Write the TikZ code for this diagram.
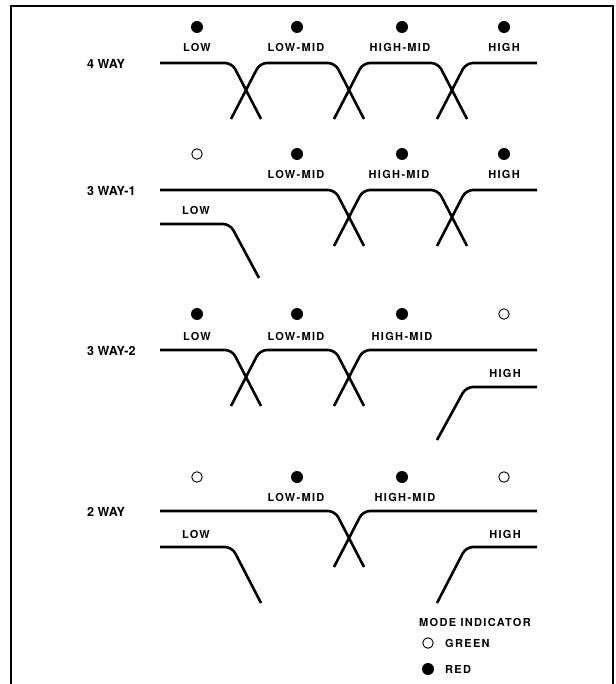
\documentclass[tikz,border=0pt]{standalone}
\usepackage{fontspec}
\setmainfont{TeX Gyre Heros}
\newfontfamily\lblfont{TeX Gyre Heros}[LetterSpace=12]
\usepackage{tikz}
\usetikzlibrary{calc}

\tikzset{
  band/.style={line width=2.6pt,rounded corners=7pt},
  txt/.style={font=\lblfont\bfseries\fontsize{11}{13}\selectfont,inner sep=0pt},
  mode/.style={font=\bfseries\fontsize{12.5}{14}\selectfont,inner sep=0pt,anchor=west},
  redled/.style={circle,fill=black,inner sep=0pt,minimum size=12pt},
  greenled/.style={circle,draw=black,line width=0.9pt,inner sep=0pt,minimum size=10.5pt},
}

\begin{document}
\begin{tikzpicture}[x=1pt,y=-1pt]
\useasboundingbox (0,0) rectangle (615,684);
% open frame
\draw[line width=1.2pt] (11,684) -- (11,6) -- (613,6) -- (613,684);

% 4 way
\begin{scope}[shift={(0,63)}]
\node[mode] (w4) at (87,1) {4 WAY};
\node[redled] (w4d1) at (197,-36) {};
\node[redled] (w4d2) at (297,-36) {};
\node[redled] (w4d3) at (402,-36) {};
\node[redled] (w4d4) at (504,-36) {};
\node[txt] (w4l1) at (197,-16) {LOW};
\node[txt] (w4l2) at (296,-16) {LOW-MID};
\node[txt] (w4l3) at (400,-16) {HIGH-MID};
\node[txt] (w4l4) at (504,-16) {HIGH};
\draw[band] (160,0) -- (232,0) -- (261,56);
\draw[band] (231,56) -- (260,0) -- (335,0) -- (364,56);
\draw[band] (334,56) -- (363,0) -- (438,0) -- (467,56);
\draw[band] (437,56) -- (466,0) -- (537,0);
\end{scope}

% 3 way-1
\begin{scope}[shift={(0,190)}]
\node[mode] (w31) at (87,1) {3 WAY-1};
\node[greenled] (w31d1) at (197,-36) {};
\node[redled] (w31d2) at (297,-36) {};
\node[redled] (w31d3) at (402,-36) {};
\node[redled] (w31d4) at (504,-36) {};
\node[txt] (w31l1) at (196,20) {LOW};
\node[txt] (w31l2) at (296,-16) {LOW-MID};
\node[txt] (w31l3) at (399,-16) {HIGH-MID};
\node[txt] (w31l4) at (504,-16) {HIGH};
\draw[band] (160,0) -- (335,0) -- (364,56);
\draw[band] (334,56) -- (363,0) -- (438,0) -- (467,56);
\draw[band] (437,56) -- (466,0) -- (537,0);
\draw[band] (160,34) -- (230,34) -- (259,88);
\end{scope}

% 3 way-2
\begin{scope}[shift={(0,350)}]
\node[mode] (w32) at (87,1) {3 WAY-2};
\node[redled] (w32d1) at (197,-36) {};
\node[redled] (w32d2) at (297,-36) {};
\node[redled] (w32d3) at (402,-36) {};
\node[greenled] (w32d4) at (504,-36) {};
\node[txt] (w32l1) at (197,-14) {LOW};
\node[txt] (w32l2) at (296,-14) {LOW-MID};
\node[txt] (w32l3) at (402,-14) {HIGH-MID};
\node[txt] (w32l4) at (505,23) {HIGH};
\draw[band] (160,0) -- (232,0) -- (261,56);
\draw[band] (231,56) -- (260,0) -- (335,0) -- (364,56);
\draw[band] (334,56) -- (363,0) -- (537,0);
\draw[band] (437,90) -- (466,37) -- (537,37);
\end{scope}

% 2 way
\begin{scope}[shift={(0,511)}]
\node[mode] (w2) at (87,1) {2 WAY};
\node[greenled] (w2d1) at (197,-34) {};
\node[redled] (w2d2) at (297,-34) {};
\node[redled] (w2d3) at (402,-34) {};
\node[greenled] (w2d4) at (504,-34) {};
\node[txt] (w2l1) at (196,23) {LOW};
\node[txt] (w2l2) at (296,-14) {LOW-MID};
\node[txt] (w2l3) at (405,-14) {HIGH-MID};
\node[txt] (w2l4) at (505,23) {HIGH};
\draw[band] (160,0) -- (335,0) -- (364,56);
\draw[band] (334,56) -- (363,0) -- (537,0);
\draw[band] (160,36) -- (232,36) -- (261,92);
\draw[band] (437,92) -- (466,36) -- (537,36);
\end{scope}

% legend
\node[txt,anchor=west] (mode) at (419,622) {MODE INDICATOR};
\node[greenled] (lgreen) at (428,643) {};
\node[txt,anchor=west] (tgreen) at (445,643) {GREEN};
\node[redled] (lred) at (428,669) {};
\node[txt,anchor=west] (tred) at (445,669) {RED};
\end{tikzpicture}
\end{document}
